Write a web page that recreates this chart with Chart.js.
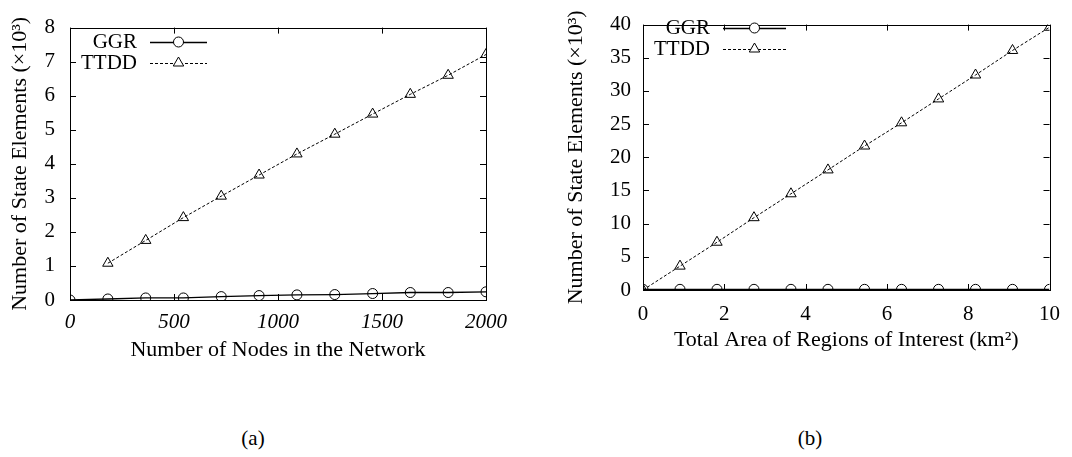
<!DOCTYPE html>
<html>
<head>
<meta charset="utf-8">
<script src="https://cdn.jsdelivr.net/npm/chart.js@4/dist/chart.umd.min.js"></script>
<style>
  body { margin: 0; background: #fff; width: 1072px; height: 457px; overflow: hidden; position: relative; font-family: "Liberation Serif", serif; }
  canvas { position: absolute; top: 0; }
  #left { left: 0; }
  #right { left: 536px; }
  .cap { position: absolute; top: 426px; width: 60px; text-align: center; font-size: 21px; }
</style>
</head>
<body>
<canvas id="left" width="536" height="400"></canvas>
<canvas id="right" width="536" height="400"></canvas>
<div class="cap" style="left:223px">(a)</div>
<div class="cap" style="left:780px">(b)</div>
<script>
// (a) state vs. number of nodes
const nodeCounts = [0, 182, 364, 545, 727, 909, 1091, 1273, 1455, 1636, 1818, 2000];
const ggrNodes = [0, 0.03, 0.06, 0.06, 0.1, 0.13, 0.15, 0.16, 0.19, 0.22, 0.22, 0.24];
const ttddNodes = [null, 1.08, 1.75, 2.42, 3.05, 3.67, 4.29, 4.87, 5.46, 6.04, 6.6, 7.21];

// (b) state vs. total area of regions of interest
const areaKm2 = [0, 0.91, 1.82, 2.73, 3.64, 4.55, 5.45, 6.36, 7.27, 8.18, 9.09, 10];
const ggrArea = [0.1, 0.1, 0.1, 0.1, 0.1, 0.1, 0.1, 0.1, 0.1, 0.1, 0.1, 0.1];
const ttddArea = [0, 3.6, 7.2, 10.9, 14.5, 18.1, 21.7, 25.2, 28.8, 32.4, 36.1, 39.6];

const seriesNames = ['GGR', 'TTDD'];
const yTitle = 'Number of State Elements (×10³)';

const FONT = '"Liberation Serif"';

function points(xs, ys) {
  const out = [];
  xs.forEach((x, i) => { if (ys[i] !== null) out.push({x: x, y: ys[i]}); });
  return out;
}

// box round the plot with inward ticks on all four sides
const frame = {
  id: 'frame',
  beforeDatasetsDraw(chart) {
    const {ctx, chartArea: a, scales} = chart;
    ctx.save();
    ctx.strokeStyle = '#000';
    ctx.lineWidth = 1;
    ctx.strokeRect(Math.round(a.left) + 0.5, Math.round(a.top) + 0.5, Math.round(a.right - a.left), Math.round(a.bottom - a.top));
    ctx.beginPath();
    scales.x.ticks.forEach(t => {
      const px = Math.round(scales.x.getPixelForValue(t.value)) + 0.5;
      ctx.moveTo(px, a.bottom); ctx.lineTo(px, a.bottom - 6);
      ctx.moveTo(px, a.top); ctx.lineTo(px, a.top + 6);
    });
    scales.y.ticks.forEach(t => {
      const py = Math.round(scales.y.getPixelForValue(t.value)) + 0.5;
      ctx.moveTo(a.left, py); ctx.lineTo(a.left + 6, py);
      ctx.moveTo(a.right, py); ctx.lineTo(a.right - 6, py);
    });
    ctx.stroke();
    ctx.restore();
  }
};

// gnuplot-like key: label right-aligned, then a line sample with its marker
const key = {
  id: 'key',
  afterDraw(chart, args, opts) {
    const ctx = chart.ctx;
    ctx.save();
    ctx.font = '21px ' + FONT;
    ctx.textAlign = 'right';
    ctx.textBaseline = 'middle';
    chart.data.datasets.forEach((ds, i) => {
      const y = opts.y + i * opts.step;
      ctx.fillStyle = '#000';
      ctx.fillText(ds.label, opts.textRight, y);
      ctx.strokeStyle = '#000';
      ctx.lineWidth = ds.borderWidth;
      ctx.setLineDash(ds.borderDash || []);
      ctx.beginPath();
      ctx.moveTo(opts.x1, y + 0.5); ctx.lineTo(opts.x2, y + 0.5);
      ctx.stroke();
      ctx.setLineDash([]);
      ctx.lineWidth = 1;
      const mx = (opts.x1 + opts.x2) / 2;
      ctx.fillStyle = '#fff';
      ctx.beginPath();
      if (ds.pointStyle === 'triangle') {
        const r = ds.pointRadius;
        ctx.moveTo(mx, y - r);
        ctx.lineTo(mx + r * 0.87, y + r * 0.5);
        ctx.lineTo(mx - r * 0.87, y + r * 0.5);
        ctx.closePath();
      } else {
        ctx.arc(mx, y, ds.pointRadius, 0, Math.PI * 2);
      }
      ctx.fill();
      ctx.stroke();
    });
    ctx.restore();
  }
};

function makeChart(id, cfg) {
  return new Chart(document.getElementById(id), {
    type: 'scatter',
    data: {
      datasets: [
        {
          label: seriesNames[0],
          data: points(cfg.xs, cfg.ggr),
          showLine: true,
          borderColor: '#000',
          borderWidth: 1.3,
          pointStyle: 'circle',
          pointRadius: 5,
          pointBorderWidth: 1,
          pointBackgroundColor: 'rgba(255,255,255,0)',
          pointBorderColor: '#000'
        },
        {
          label: seriesNames[1],
          data: points(cfg.xs, cfg.ttdd),
          showLine: true,
          borderColor: '#000',
          borderWidth: 1,
          borderDash: [3, 2],
          pointStyle: 'triangle',
          pointRadius: 6,
          pointBorderWidth: 1,
          pointBackgroundColor: 'rgba(255,255,255,0)',
          pointBorderColor: '#000'
        }
      ]
    },
    options: {
      responsive: false,
      animation: false,
      layout: { padding: cfg.padding },
      plugins: {
        legend: { display: false },
        tooltip: { enabled: false },
        key: cfg.key
      },
      scales: {
        x: {
          type: 'linear',
          min: cfg.xMin, max: cfg.xMax,
          grid: { display: false, drawTicks: false },
          border: { display: false },
          ticks: {
            stepSize: cfg.xStep,
            padding: cfg.xPad,
            color: '#000',
            font: { family: FONT, size: 21, style: cfg.xItalic ? 'italic' : 'normal' },
            callback: v => String(v)
          },
          title: {
            display: true,
            text: cfg.xTitle,
            color: '#000',
            padding: 0,
            font: { family: FONT, size: 22 }
          },
          afterFit(scale) { scale.height = 63; }
        },
        y: {
          min: cfg.yMin, max: cfg.yMax,
          grid: { display: false, drawTicks: false },
          border: { display: false },
          ticks: {
            stepSize: cfg.yStep,
            padding: cfg.yPad,
            color: '#000',
            font: { family: FONT, size: 21 },
            callback: v => String(v)
          },
          title: {
            display: true,
            text: yTitle,
            color: '#000',
            padding: { top: 7, bottom: 0 },
            font: { family: FONT, size: 22 }
          },
          afterFit(scale) { scale.width = cfg.yWidth; }
        }
      }
    },
    plugins: [frame, key]
  });
}

function drawAll() {
  makeChart('left', {
    xs: nodeCounts, ggr: ggrNodes, ttdd: ttddNodes,
    xMin: 0, xMax: 2000, xStep: 500, xItalic: true,
    yMin: 0, yMax: 8, yStep: 1,
    xTitle: 'Number of Nodes in the Network',
    padding: { left: 0, top: 26, right: 50, bottom: 37 },
    yWidth: 70, yPad: 15, xPad: 10,
    key: { textRight: 137, x1: 150, x2: 207, y: 42, step: 21 }
  });

  makeChart('right', {
    xs: areaKm2, ggr: ggrArea, ttdd: ttddArea,
    xMin: 0, xMax: 10, xStep: 2, xItalic: false,
    yMin: 0, yMax: 40, yStep: 5,
    xTitle: 'Total Area of Regions of Interest (km²)',
    padding: { left: 20, top: 12, right: 14, bottom: 47 },
    yWidth: 87, yPad: 12, xPad: 12,
    key: { textRight: 174, x1: 187, x2: 250, y: 28, step: 21 }
  });
}

Promise.all([
  document.fonts.load('21px "Liberation Serif"'),
  document.fonts.load('italic 21px "Liberation Serif"')
]).then(drawAll, drawAll);
</script>
</body>
</html>
